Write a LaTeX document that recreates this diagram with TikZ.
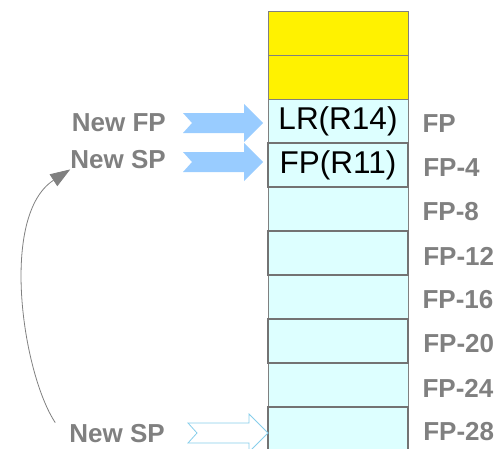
\documentclass[tikz,border=0pt]{standalone}
\usepackage{fontspec}
\setmainfont{Liberation Sans}
\usetikzlibrary{arrows.meta}
\definecolor{cellcyan}{HTML}{DDFFFF}
\definecolor{labelgray}{HTML}{808080}
\definecolor{ptrblue}{HTML}{99CCFF}
\definecolor{ptrline}{HTML}{87CEEB}
\newcommand{\ptrarrow}[2]{\draw[#1,shift={#2}] (0,0) -- (-19,19) -- (-19,10) -- (-80,10) -- (-71,0) -- (-80,-10) -- (-19,-10) -- (-19,-19) -- cycle;}

\begin{document}
\begin{tikzpicture}[x=1pt,y=1pt,
  cell/.style={minimum width=140pt,minimum height=44pt,inner sep=0pt,draw=labelgray,line width=0.8pt,fill=cellcyan},
  thickcell/.style={cell,line width=2.2pt,draw=labelgray!90!black},
  slot/.style={font=\fontsize{31.5}{36}\selectfont},
  offset/.style={font=\bfseries\fontsize{26}{30}\selectfont,text=labelgray,inner sep=0pt,anchor=west},
  pointer/.style={font=\bfseries\fontsize{26}{30}\selectfont,text=labelgray,inner sep=0pt,anchor=east}]
\clip (0,0) rectangle (497,448);
\pgfmathsetmacro{\cellx}{338}
\foreach \i/\f in {0/yellow,1/yellow,2/cellcyan,4/cellcyan,6/cellcyan,8/cellcyan}
  \node[cell,fill=\f] (c\i) at (\cellx,{415-44*\i}) {};
\foreach \i in {3,5,7,9}
  \node[thickcell] (c\i) at (\cellx,{415-44*\i}) {};
\node[slot] (lr) at (c2) {LR(R14)};
\node[slot] (fpsave) at (c3) {FP(R11)};
\foreach \i/\t in {2/FP,3/FP-4,4/FP-8,5/FP-12,6/FP-16,7/FP-20,8/FP-24,9/FP-28}
  \node[offset] (o\i) at ([xshift=14pt,yshift=-3pt]c\i.east) {\t};
\node[pointer] (newfp) at (166,325) {New FP};
\node[pointer] (newsp) at (166,288) {New SP};
\node[pointer] (oldsp) at (165,14) {New SP};
\coordinate (fptip) at (263,325);
\coordinate (sptip) at (263,286);
\coordinate (oldtip) at (268,15);
\ptrarrow{fill=ptrblue,draw=none}{(fptip)}
\ptrarrow{fill=ptrblue,draw=none}{(sptip)}
\ptrarrow{fill=white,draw=ptrline,line width=0.8pt}{(oldtip)}
\draw[labelgray,line width=0.8pt,-{Triangle[length=20pt,width=14pt]}] ([xshift=-14pt,yshift=2pt]oldsp.north west) .. controls +(-33,50) and +(-71,-46) .. (newsp.south west);
\end{tikzpicture}
\end{document}
